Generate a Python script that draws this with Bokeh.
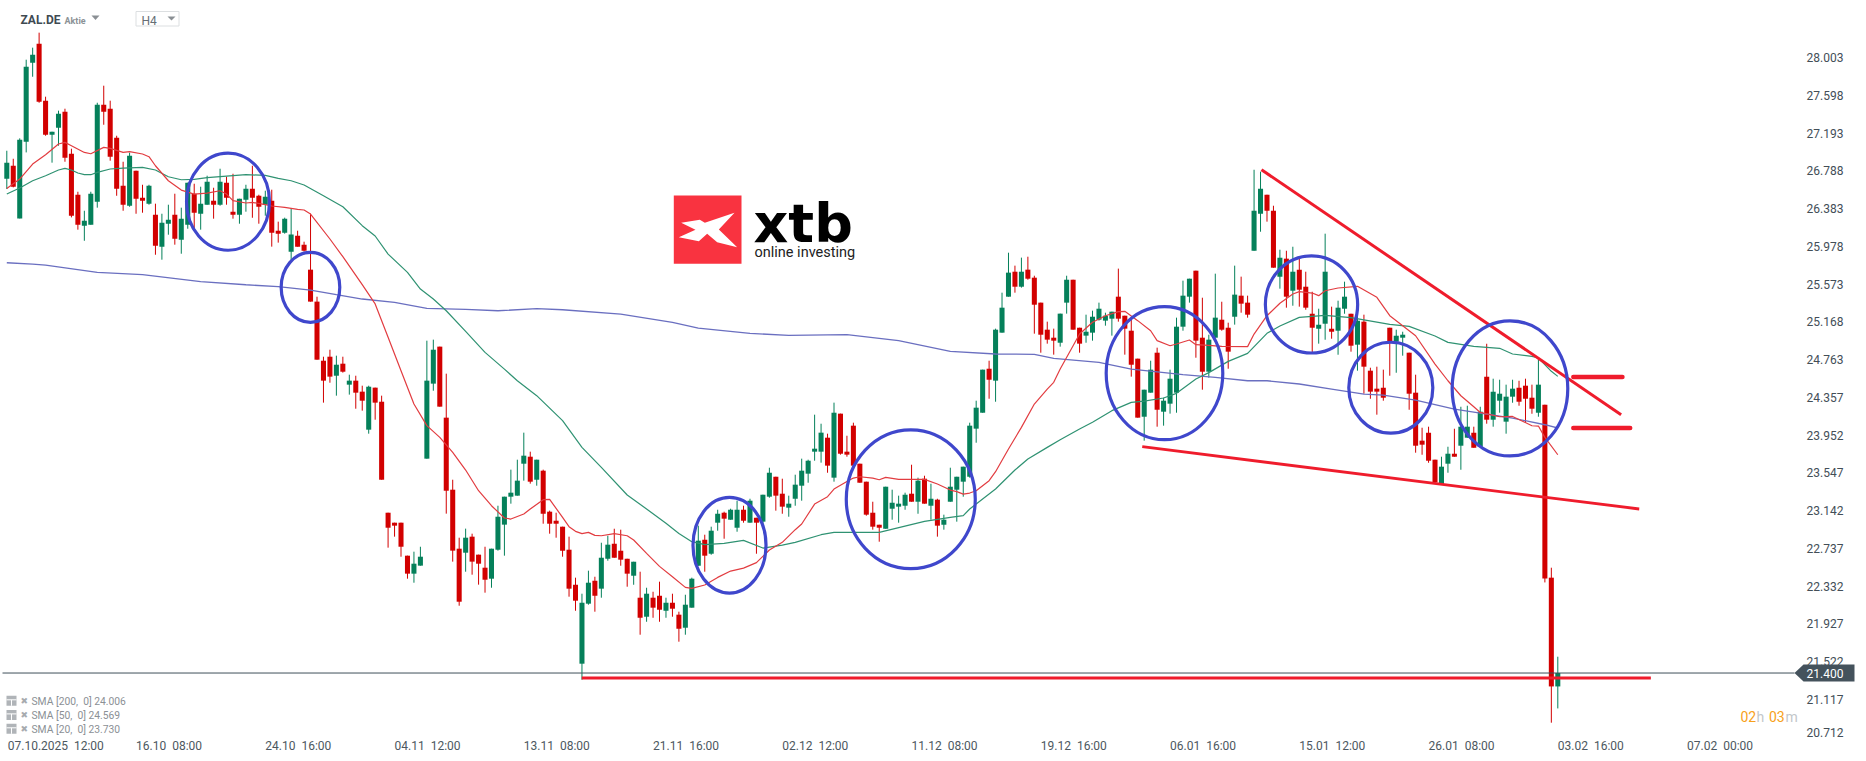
from bokeh.plotting import figure
from bokeh.embed import file_html
from bokeh.resources import INLINE
from bokeh.core.properties import value
from bokeh.models import LinearAxis, FixedTicker, Range1d

# ---------- chart data (H4 candles of ZAL.DE, index = candle number) ----------
opens = [26.704,26.843,26.278,27.101,27.949,28.152,27.541,27.176,27.251,27.423,26.972,26.532,26.199,26.210,26.457,27.498,27.455,27.144,26.629,26.414,
26.790,26.500,26.436,26.317,25.974,26.221,26.317,26.049,26.210,26.543,26.328,26.425,26.468,26.425,26.661,26.350,26.317,26.478,26.596,26.521,
26.425,26.468,26.146,26.125,25.921,26.093,25.996,25.728,25.385,24.751,24.794,24.590,24.719,24.494,24.537,24.419,24.011,24.462,24.311,23.120,
23.013,23.013,22.659,22.466,22.552,23.700,24.505,24.902,24.140,23.367,22.734,22.691,22.863,22.670,22.530,22.412,22.723,22.992,23.292,23.303,
23.646,23.721,23.474,23.571,23.131,23.034,22.970,22.723,22.347,21.500,22.144,22.390,22.305,22.626,22.787,22.712,22.626,22.444,22.208,22.004,
22.208,22.229,22.068,22.154,22.026,21.886,22.101,22.551,22.830,22.680,23.013,23.120,23.045,22.959,23.152,23.013,23.066,23.024,23.292,23.506,
23.324,23.174,23.270,23.410,23.539,23.775,23.775,23.925,23.496,24.183,23.775,24.054,23.646,23.453,23.120,22.991,22.948,23.163,23.185,23.195,
23.324,23.238,23.485,23.195,23.260,22.991,23.238,23.367,23.453,23.506,24.022,24.193,24.665,24.537,25.052,25.438,25.706,25.545,25.728,25.642,
25.374,25.084,24.998,24.944,25.374,25.620,25.105,25.020,25.052,25.191,25.181,25.202,25.438,25.234,25.073,24.773,24.150,24.408,24.837,24.204,
24.290,24.408,25.116,25.438,25.717,24.998,24.633,24.998,25.191,25.105,25.223,25.449,25.374,25.931,26.329,26.532,26.361,25.652,25.846,25.502,
25.727,25.545,25.255,25.094,25.148,25.094,25.073,25.309,25.255,24.923,25.170,24.644,24.451,24.461,25.105,24.955,24.998,24.837,24.408,23.893,
23.978,23.689,23.428,23.646,23.753,23.839,23.925,23.978,23.828,24.579,24.118,24.322,24.097,24.365,24.461,24.483,24.354,24.193,24.279,22.423,
21.256]
highs = [27.004,26.918,27.137,27.981,28.110,28.271,27.584,27.208,27.434,27.455,27.026,26.564,26.360,26.564,27.519,27.702,27.541,27.165,26.886,26.983,
26.790,26.639,26.639,26.436,26.328,26.425,26.543,26.393,26.661,26.650,26.618,26.736,26.607,26.811,26.725,26.757,26.489,26.639,26.843,26.532,
26.575,26.586,26.243,26.286,26.383,26.146,26.028,26.329,25.438,24.794,24.869,24.805,24.794,24.601,24.590,24.483,24.483,24.462,24.376,23.120,
23.013,23.013,22.659,22.702,22.755,24.966,24.977,24.902,24.612,23.474,22.852,22.949,22.895,22.670,22.755,22.734,23.195,23.292,23.582,23.689,
23.979,23.775,23.689,23.582,23.142,23.120,22.970,22.863,22.423,22.251,22.498,22.433,22.798,22.873,22.948,22.938,22.626,22.594,22.487,22.315,
22.272,22.380,22.208,22.251,22.058,22.240,22.423,22.981,22.884,22.970,23.152,23.131,23.163,23.249,23.195,23.270,23.066,23.313,23.603,23.506,
23.485,23.303,23.528,23.700,23.689,24.172,24.075,23.968,24.301,24.183,23.946,24.086,23.646,23.453,23.238,22.991,23.399,23.367,23.303,23.335,
23.635,23.496,23.517,23.431,23.270,23.099,23.603,23.506,23.614,24.086,24.322,24.655,24.751,25.095,25.481,25.910,25.771,25.857,25.867,25.663,
25.374,25.170,25.095,25.256,25.663,25.620,25.105,25.245,25.288,25.374,25.266,25.277,25.739,25.234,25.191,24.773,24.440,24.751,24.891,24.354,
24.655,25.213,25.610,25.631,25.717,25.427,25.030,25.685,25.384,25.159,25.771,25.653,25.449,26.800,26.779,26.532,26.414,25.942,25.931,25.974,
25.846,25.706,25.491,25.309,26.114,25.331,25.395,25.599,25.255,25.234,25.245,24.676,24.687,24.655,25.105,25.084,25.062,24.837,24.601,24.032,
24.043,23.689,23.721,23.828,24.021,24.257,24.268,24.043,24.257,24.933,24.558,24.547,24.494,24.547,24.536,24.558,24.494,24.762,24.279,22.530,
21.575]
lows = [26.593,26.611,26.278,26.986,27.798,27.519,27.165,26.876,27.058,26.886,26.289,26.157,26.038,26.210,26.393,27.283,26.897,26.521,26.360,26.403,
26.328,26.339,26.425,25.888,25.835,26.103,25.996,25.899,26.167,26.167,26.157,26.425,26.275,26.414,26.425,26.275,26.221,26.350,26.285,26.221,
26.307,25.975,26.018,26.114,25.825,25.975,25.921,25.385,24.762,24.301,24.515,24.376,24.623,24.387,24.236,24.215,23.968,24.118,23.474,22.745,
22.863,22.648,22.412,22.369,22.552,23.700,24.429,24.258,23.110,22.595,22.122,22.487,22.455,22.348,22.262,22.315,22.713,22.659,23.217,23.303,
23.464,23.432,23.410,23.002,22.895,22.852,22.648,22.219,22.068,21.328,22.133,22.058,22.208,22.605,22.637,22.551,22.326,22.347,21.811,21.950,
21.993,21.950,21.993,22.004,21.736,21.811,22.101,22.551,22.487,22.669,22.927,22.841,23.045,22.916,23.013,23.013,22.680,22.981,23.281,23.142,
23.109,23.077,23.195,23.249,23.442,23.678,23.657,23.549,23.453,23.743,23.721,23.625,23.442,23.088,22.938,22.809,22.948,23.045,23.013,23.152,
23.238,23.109,23.217,23.045,22.863,22.938,23.238,23.024,23.292,23.496,23.871,24.193,24.343,24.311,25.052,25.438,25.481,25.535,25.620,25.041,
24.837,24.934,24.816,24.902,25.256,25.084,24.837,24.944,24.966,25.181,25.127,25.020,25.170,24.816,24.580,24.140,23.893,24.408,24.043,24.054,
24.183,24.193,25.073,25.374,24.783,24.440,24.569,24.998,25.073,24.665,25.138,25.266,25.213,25.931,26.135,26.243,25.749,25.524,25.320,25.341,
25.331,25.298,24.837,24.934,24.976,24.987,24.815,25.255,24.848,24.644,24.397,24.343,24.172,24.322,24.590,24.622,24.805,24.225,23.764,23.742,
23.656,23.428,23.428,23.549,23.721,23.581,23.925,23.817,23.828,24.075,24.043,24.193,23.968,24.300,24.268,24.086,24.182,24.150,22.372,20.867,
21.020]
closes = [26.876,26.618,27.122,27.906,28.034,27.530,27.176,27.208,27.401,26.929,26.307,26.210,26.253,26.543,27.498,27.423,26.940,26.596,26.425,26.951,
26.489,26.468,26.629,25.985,26.232,26.264,26.060,26.275,26.661,26.339,26.436,26.672,26.425,26.672,26.500,26.317,26.489,26.596,26.500,26.403,
26.511,26.125,26.114,26.275,26.104,25.975,25.932,25.385,24.762,24.537,24.580,24.708,24.633,24.537,24.408,24.322,24.472,24.301,23.474,22.959,
22.981,22.755,22.466,22.573,22.648,24.537,24.869,24.258,23.356,22.713,22.165,22.852,22.595,22.573,22.401,22.734,23.077,23.292,23.335,23.464,
23.732,23.453,23.689,23.109,23.002,23.002,22.712,22.305,22.176,22.154,22.369,22.229,22.637,22.777,22.637,22.616,22.466,22.594,21.993,22.251,
22.101,22.079,22.154,22.090,21.875,22.133,22.412,22.820,22.659,22.927,23.109,23.056,23.152,23.152,23.034,23.249,23.013,23.313,23.549,23.303,
23.185,23.217,23.421,23.571,23.678,23.807,23.979,23.625,24.193,23.753,23.743,23.625,23.442,23.099,22.970,22.959,23.399,23.227,23.217,23.313,
23.238,23.464,23.217,23.270,22.981,23.045,23.399,23.506,23.614,24.054,24.247,24.655,24.547,25.084,25.320,25.696,25.545,25.706,25.631,25.352,
25.030,24.977,24.966,25.256,25.620,25.084,24.934,25.062,25.223,25.309,25.234,25.277,25.202,25.095,24.708,24.140,24.440,24.655,24.225,24.322,
24.558,25.116,25.449,25.631,24.966,24.633,24.977,25.213,25.084,24.848,25.460,25.363,25.245,26.361,26.597,26.361,25.749,25.856,25.438,25.706,
25.513,25.320,25.105,25.137,25.706,25.062,25.320,25.438,24.912,25.180,24.687,24.419,24.419,24.354,24.955,25.019,25.030,24.397,23.839,23.850,
23.678,23.445,23.614,23.753,23.721,24.043,24.043,23.817,24.204,24.118,24.418,24.397,24.365,24.451,24.311,24.343,24.236,24.494,22.415,21.256,
21.400]

sma20_i = [0,2,4,6,8,9,10,12,13,15,16,18,19,21,22,23,25,27,29,31,33,34,35,37,38,40,41,43,45,46,47,50,52,55,57,59,61,63,65,67,69,71,73,75,77,78,80,81,83,84,86,87,88,89,90,91,92,94,96,97,99,101,103,105,106,108,110,112,114,116,118,120,122,123,125,127,128,130,131,132,134,135,136,138,142,144,146,147,148,149,150,152,153,155,157,159,161,162,163,165,166,168,170,172,173,175,177,178,180,181,183,184,186,188,192,193,195,197,199,200,202,203,204,206,209,212,214,216,218,221,223,225,227,228,231,233,236,237,238,240]
sma20_v = [26.600,26.700,26.861,26.961,27.076,27.094,27.058,26.986,26.972,27.040,27.029,26.986,26.994,26.969,26.940,26.843,26.682,26.582,26.539,26.550,26.575,26.539,26.468,26.443,26.450,26.425,26.411,26.397,26.375,26.368,26.325,26.057,25.867,25.567,25.360,25.002,24.644,24.286,24.054,23.929,23.768,23.578,23.356,23.195,23.063,23.052,23.106,23.160,23.260,23.263,23.070,22.970,22.920,22.895,22.909,22.877,22.873,22.895,22.873,22.827,22.684,22.544,22.433,22.319,22.308,22.344,22.426,22.494,22.526,22.584,22.720,22.802,22.938,22.999,23.213,23.292,23.374,23.456,23.492,23.506,23.492,23.474,23.499,23.478,23.478,23.428,23.363,23.346,23.320,23.331,23.356,23.464,23.560,23.803,24.036,24.286,24.447,24.519,24.662,24.912,25.037,25.163,25.234,25.277,25.281,25.181,25.073,24.966,24.912,24.930,24.973,24.923,24.916,24.905,24.902,25.037,25.234,25.367,25.467,25.492,25.477,25.449,25.502,25.531,25.549,25.431,25.234,25.127,25.019,24.715,24.536,24.375,24.257,24.196,24.150,24.153,24.053,24.050,23.928,23.742]

sma50_i = [0,2,4,6,8,9,10,11,12,13,14,16,18,21,23,25,27,29,31,34,37,40,42,44,46,49,52,55,57,59,62,64,66,68,71,74,77,79,82,86,89,92,96,99,102,104,106,108,111,114,117,120,122,126,128,135,142,146,148,149,153,156,158,161,163,166,168,171,174,176,179,181,184,186,189,192,195,197,200,204,208,214,217,221,223,227,231,233,236,237,239,240]
sma50_v = [26.539,26.604,26.682,26.736,26.797,26.815,26.797,26.765,26.747,26.747,26.772,26.808,26.818,26.825,26.797,26.725,26.693,26.697,26.715,26.732,26.747,26.740,26.707,26.682,26.636,26.521,26.403,26.200,26.089,25.895,25.699,25.520,25.413,25.287,25.066,24.840,24.661,24.536,24.376,24.108,23.822,23.607,23.310,23.159,23.006,22.898,22.809,22.777,22.791,22.823,22.741,22.773,22.802,22.884,22.909,22.909,23.027,23.070,23.088,23.160,23.374,23.578,23.696,23.821,23.904,24.018,24.090,24.215,24.304,24.318,24.351,24.401,24.555,24.623,24.744,24.830,25.045,25.123,25.216,25.237,25.213,25.141,25.120,25.016,24.948,24.905,24.884,24.823,24.798,24.780,24.637,24.583]

sma200_i = [0,4,6,14,21,30,37,42,47,51,55,60,65,71,76,82,86,95,103,107,115,121,130,138,146,153,159,162,169,174,182,187,192,195,200,205,210,213,218,224,228,233,238,240]
sma200_v = [25.802,25.788,25.777,25.699,25.674,25.599,25.566,25.545,25.509,25.459,25.413,25.377,25.312,25.302,25.287,25.309,25.298,25.250,25.162,25.101,25.044,25.023,25.030,24.966,24.851,24.823,24.819,24.776,24.733,24.661,24.601,24.572,24.536,24.536,24.501,24.447,24.393,24.382,24.329,24.232,24.189,24.136,24.064,24.029]

price_ticks = [28.003,27.598,27.193,26.788,26.383,25.978,25.573,25.168,24.763,24.357,23.952,23.547,23.142,22.737,22.332,21.927,21.522,21.117]
last_tick_label = "20.712"
time_ticks = [0,20,40,60,80,100,120,140,160,180,200,220,240,260]
time_labels = ["07.10.2025\u00a0 12:00","16.10\u00a0 08:00","24.10\u00a0 16:00","04.11\u00a0 12:00","13.11\u00a0 08:00","21.11\u00a0 16:00","02.12\u00a0 12:00","11.12\u00a0 08:00","19.12\u00a0 16:00","06.01\u00a0 16:00","15.01\u00a0 12:00","26.01\u00a0 08:00","03.02\u00a0 16:00","07.02\u00a0 00:00"]
last_price = 21.400
legend_rows = ["SMA [200,\u00a0 0] 24.006","SMA [50,\u00a0 0] 24.569","SMA [20,\u00a0 0] 23.730"]

# hand-drawn analysis marks (candle index, price)
ellipse_i = [34.23,46.99,111.83,139.88,179.14,201.89,214.16,232.60]
ellipse_p = [26.457,25.538,22.771,23.265,24.617,25.355,24.461,24.454]
ellipse_w = [12.84,9.07,11.30,19.96,18.04,14.28,13.00,17.89]
ellipse_h = [1.041,0.751,1.026,1.491,1.427,1.044,0.976,1.452]
support_i, support_p = [88.97,254.4],[21.347,21.347]
lower_i, lower_p = [175.7,252.6],[23.828,23.160]
upper_i, upper_p = [194.15,249.8],[26.801,24.172]
stub1_i, stub1_p = [242.4,250.0],[24.576,24.576]
stub2_i, stub2_p = [242.4,251.2],[24.029,24.029]

# ---------- scale between page pixels and chart units ----------
W, H = 1866, 761
def X(px): return (px - 6.3) / 6.4625
def Y(px): return 28.6161 - 0.01073 * px

UP, DOWN = "#05805a", "#d20000"
RED, BLUE = "#ef1c2c", "#3f47cc"
INK = "#434e57"

p = figure(width=W, height=H, output_backend="svg", toolbar_location=None,
           x_axis_type=None, y_axis_type=None,
           x_range=Range1d(X(0), X(W)), y_range=Range1d(Y(H), Y(0)),
           min_border=0, outline_line_color=None, background_fill_color="white",
           margin=(0, 0, 0, 0))
p.grid.visible = False

# axes
yticks = price_ticks + [Y(732)]
yaxis = LinearAxis(ticker=FixedTicker(ticks=yticks), fixed_location=X(1797),
                   major_label_overrides={**{v: f"{v:.3f}" for v in price_ticks}, Y(732): last_tick_label},
                   major_tick_line_color=None, minor_tick_line_color=None, axis_line_color=None,
                   major_label_standoff=3, major_label_text_font="Roboto", major_label_text_font_size="12px",
                   major_label_text_color=INK)
p.add_layout(yaxis, "right")
# the time labels start at their candle, the axis centres them: half a label further right
half_label = [49 / 6.4625 if i == 0 else 33 / 6.4625 for i in range(len(time_ticks))]
label_pos = [t + h for t, h in zip(time_ticks, half_label)]
xaxis = LinearAxis(ticker=FixedTicker(ticks=label_pos), fixed_location=Y(730),
                   major_label_overrides=dict(zip(label_pos, time_labels)),
                   major_tick_line_color=None, minor_tick_line_color=None, axis_line_color=None,
                   major_label_standoff=2, major_label_text_font="Roboto", major_label_text_font_size="12px",
                   major_label_text_color="#4d5860")
p.add_layout(xaxis, "below")

def label(px, py, s, size, color, font="Roboto", style="normal", align="left", base="middle", **kw):
    p.text(x=[X(px)], y=[Y(py)], text=[s], text_font=value(font), text_font_size=f"{size}px",
           text_font_style=style, text_color=color, text_align=align, text_baseline=base, **kw)

def poly(pts, color, **kw):
    p.patch([X(a) for a, b in pts], [Y(b) for a, b in pts], fill_color=color, line_color=None, **kw)

# header
label(20, 19, "ZAL.DE", 12, "#3f4a52", style="bold")
label(64, 20, "Aktie", 9, "#8c9296", style="bold")
poly([(91, 15), (99, 15), (95, 19.5)], "#8a8f94")
p.quad(left=[X(135.5)], right=[X(178.5)], top=[Y(11)], bottom=[Y(25.5)], fill_color=None, line_color="#dcdfe1", line_width=1)
label(141, 20, "H4", 12, "#666e75")
poly([(167, 16), (175, 16), (171, 20)], "#8a8f94")

# logo
p.quad(left=[X(673.3)], right=[X(741)], top=[Y(195)], bottom=[Y(263.3)], fill_color="#f93340", line_color=None)
z = [(62,127),(118,118),(133,127),(222,97),(175,147),(230,200),(170,185),(140,160),(115,182),(55,170),(105,148)]
poly([(660 + a / 3, 180 + b / 3) for a, b in z], "white")
label(753, 254, "xtb", 54, "#000000", font="DejaVu Sans", style="bold", base="bottom")
label(754, 260, "online investing", 14.5, "#222222", font="Roboto", base="bottom")

# candles
idx = list(range(len(opens)))
cols = [UP if c >= o else DOWN for o, c in zip(opens, closes)]
p.segment(x0=idx, y0=lows, x1=idx, y1=highs, line_color=cols, line_width=1)
p.vbar(x=idx, width=0.78, top=[max(o, c) for o, c in zip(opens, closes)],
       bottom=[min(o, c) for o, c in zip(opens, closes)], fill_color=cols, line_color=None)

# moving averages
p.line(sma200_i, sma200_v, line_color="#6a6fc0", line_width=1.3)
p.line(sma50_i, sma50_v, line_color="#2f9272", line_width=1.2)
p.line(sma20_i, sma20_v, line_color="#e23c40", line_width=1.2)

# last price line
p.line([X(2), X(1794)], [last_price, last_price], line_color="#3f4f5a", line_width=1)

# analysis marks
p.line(support_i, support_p, line_color=RED, line_width=3)
p.line(lower_i, lower_p, line_color=RED, line_width=2.8)
p.line(upper_i, upper_p, line_color=RED, line_width=3)
p.line(stub1_i, stub1_p, line_color=RED, line_width=4.5, line_cap="round")
p.line(stub2_i, stub2_p, line_color=RED, line_width=4.5, line_cap="round")
p.ellipse(x=ellipse_i, y=ellipse_p, width=ellipse_w, height=ellipse_h, fill_color=None, line_color=BLUE, line_width=3.2)

# price tag
poly([(1794, 672.5), (1803, 664), (1854, 664), (1854, 681), (1803, 681)], "#44525c", level="overlay")
label(1806, 673, f"{last_price:.3f}", 12, "#ffffff", level="overlay")

# indicator rows
for py, s in zip([701.3, 715.4, 729.3], legend_rows):
    p.quad(left=[X(6)], right=[X(16)], top=[Y(py - 6)], bottom=[Y(py + 4)], fill_color="#b0b4b8", line_color=None)
    p.segment(x0=[X(6)], y0=[Y(py - 2)], x1=[X(16)], y1=[Y(py - 2)], line_color="white", line_width=1)
    p.segment(x0=[X(11)], y0=[Y(py - 2)], x1=[X(11)], y1=[Y(py + 4)], line_color="white", line_width=1)
    label(20, py - 1, "\u2716", 9, "#a7abaf", font="DejaVu Sans")
    label(31, py, s, 10.3, "#8b9095")

# countdown
label(1740, 716, "02", 14, "#f7a11a")
label(1756, 716, "h", 14, "#c3c7ca")
label(1768.5, 716, "03", 14, "#f7a11a")
label(1785, 716, "m", 14, "#c3c7ca")

open("out.html", "w").write(file_html(p, INLINE))
